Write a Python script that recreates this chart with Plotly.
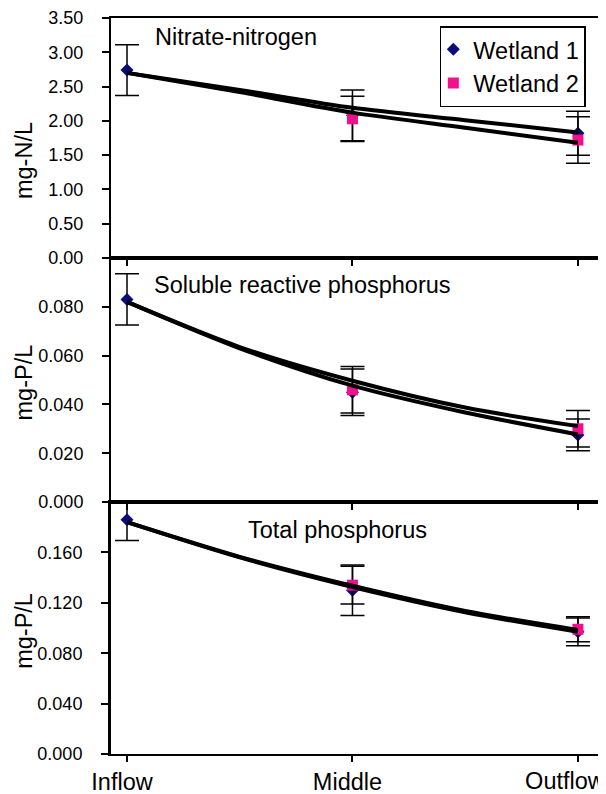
import plotly.graph_objects as go
from plotly.subplots import make_subplots

# ---------------- data ----------------
positions = ["Inflow", "Middle", "Outflow"]
pos_x = [0, 1, 2]
trend_x = [0, 0.5, 1, 1.5, 2]

nitrate_w1 = [2.74, 2.08, 1.82]
nitrate_w1_err = [0.37, 0.37, 0.32]
nitrate_w2 = [None, 2.03, 1.72]
nitrate_w2_err = [0, 0.33, 0.34]
nitrate_trend_w1 = [2.70, 2.45, 2.19, 2.01, 1.83]
nitrate_trend_w2 = [2.70, 2.42, 2.12, 1.90, 1.68]

srp_w1 = [0.083, 0.045, 0.0275]
srp_w1_err = [0.0105, 0.0095, 0.0065]
srp_w2 = [None, 0.046, 0.030]
srp_w2_err = [0, 0.0095, 0.0075]
srp_trend_w1 = [0.082, 0.0630, 0.0477, 0.0367, 0.0277]
srp_trend_w2 = [0.082, 0.0635, 0.0497, 0.0387, 0.0311]

tp_w1 = [0.186, 0.130, 0.097]
tp_w1_err = [0.0165, 0.020, 0.011]
tp_w2 = [None, 0.134, 0.099]
tp_w2_err = [0, 0.015, 0.010]
tp_trend_w1 = [0.184, 0.156, 0.1325, 0.1125, 0.097]
tp_trend_w2 = [0.184, 0.1565, 0.1335, 0.1135, 0.0985]

panel_titles = ["Nitrate-nitrogen", "Soluble reactive phosphorus", "Total phosphorus"]
y_titles = ["mg-N/L", "mg-P/L", "mg-P/L"]
y_ranges = [[0, 3.5], [0, 0.1], [0, 0.2]]
y_tickvals = [[0, 0.5, 1, 1.5, 2, 2.5, 3, 3.5],
              [0, 0.02, 0.04, 0.06, 0.08],
              [0, 0.04, 0.08, 0.12, 0.16]]
y_tickformat = [".2f", ".3f", ".3f"]

series_names = ["Wetland 1", "Wetland 2"]
# --------------------------------------

FONT = "Arial, Liberation Sans, Helvetica, sans-serif"
W1_COLOR = "#0b0b7a"
W2_COLOR = "#f2108c"
BIG = 23.5
X_RANGE = [-0.071, 2.089]

fig = make_subplots(rows=3, cols=1, shared_xaxes=True, vertical_spacing=0,
                    row_heights=[240, 244, 252])

panels = [
    (nitrate_w1, nitrate_w1_err, nitrate_w2, nitrate_w2_err, nitrate_trend_w1, nitrate_trend_w2),
    (srp_w1, srp_w1_err, srp_w2, srp_w2_err, srp_trend_w1, srp_trend_w2),
    (tp_w1, tp_w1_err, tp_w2, tp_w2_err, tp_trend_w1, tp_trend_w2),
]

for i, (w1, w1e, w2, w2e, t1, t2) in enumerate(panels):
    row = i + 1
    fig.add_trace(go.Scatter(
        x=pos_x, y=w1, mode="markers", name=series_names[0],
        marker=dict(symbol="diamond", size=10, color=W1_COLOR),
        error_y=dict(type="data", array=w1e, visible=True, color="black",
                     thickness=1.5, width=12),
        showlegend=(i == 0), legendgroup="w1", cliponaxis=False), row=row, col=1)
    fig.add_trace(go.Scatter(
        x=pos_x, y=w2, mode="markers", name=series_names[1],
        marker=dict(symbol="square", size=11, color=W2_COLOR),
        error_y=dict(type="data", array=w2e, visible=True, color="black",
                     thickness=1.5, width=12),
        showlegend=(i == 0), legendgroup="w2", cliponaxis=False), row=row, col=1)
    for t in (t1, t2):
        fig.add_trace(go.Scatter(
            x=trend_x, y=t, mode="lines",
            line=dict(color="black", width=4, shape="spline", smoothing=0.8),
            showlegend=False, hoverinfo="skip"), row=row, col=1)

    fig.update_yaxes(range=y_ranges[i], tickvals=y_tickvals[i], tickformat=y_tickformat[i],
                     ticks="outside", ticklen=7, tickwidth=1.5, tickcolor="black",
                     showline=True, linecolor="black", linewidth=2 if i < 2 else 3,
                     mirror=True, showgrid=False, zeroline=False, automargin=False,
                     ticklabeloverflow="allow",
                     tickfont=dict(family=FONT, size=18, color="black"),
                     ticklabelstandoff=15,
                     row=row, col=1)
    fig.update_xaxes(range=X_RANGE, tickvals=pos_x[:2], ticktext=positions[:2],
                     ticks="outside", ticklen=6, tickwidth=1.5, tickcolor="black",
                     showline=True, linecolor="black", linewidth=2, mirror=True,
                     showgrid=False, zeroline=False, automargin=False,
                     ticklabeloverflow="allow", ticklabelshift=-5,
                     tickfont=dict(family=FONT, size=BIG, color="black"),
                     row=row, col=1)
    # tick mark at Outflow (label drawn by the overlay axis below)
    fig.update_xaxes(tickvals=pos_x, ticktext=positions[:2] + [""], row=row, col=1)

# overlay axis carrying the (edge-hugging) Outflow label
fig.add_trace(go.Scatter(x=[], y=[], xaxis="x4", yaxis="y3", showlegend=False,
                         hoverinfo="skip"))
fig.update_layout(xaxis4=dict(overlaying="x3", anchor="y3", side="bottom", range=X_RANGE,
                              tickvals=[pos_x[2]], ticktext=[positions[2]],
                              ticks="outside", ticklen=6, tickcolor="rgba(0,0,0,0)",
                              showline=False, showgrid=False, zeroline=False,
                              automargin=False, ticklabeloverflow="allow",
                              ticklabelshift=-13,
                              tickfont=dict(family=FONT, size=BIG, color="black")))

# plot area spans page y 18..754 (736 px)
annotations = []
title_pos = [(0.0862, 0.9742), (0.0842, 0.6372), (0.2772, 0.3043)]
for (tx, ty), txt in zip(title_pos, panel_titles):
    annotations.append(dict(text=txt, x=tx, y=ty, xref="paper", yref="paper",
                            xanchor="left", yanchor="middle", showarrow=False,
                            font=dict(family=FONT, size=BIG, color="black")))
ytitle_pos = [0.8057, 0.5048, 0.1674]
for ty, txt in zip(ytitle_pos, y_titles):
    annotations.append(dict(text=txt, x=-0.1786, y=ty, xref="paper", yref="paper",
                            xanchor="center", yanchor="middle", textangle=-90,
                            showarrow=False,
                            font=dict(family=FONT, size=BIG, color="black")))

# page body has an 8px margin, so the figure is 8px smaller and offset
fig.update_layout(
    width=598, height=786,
    margin=dict(l=103, r=8, t=10, b=40),
    paper_bgcolor="white", plot_bgcolor="white",
    font=dict(family=FONT, color="black"),
    annotations=annotations,
    legend=dict(x=0.975, y=0.989, xanchor="right", yanchor="top",
                bgcolor="white", bordercolor="black", borderwidth=1.5,
                font=dict(family=FONT, size=BIG, color="black"),
                itemwidth=30, tracegroupgap=0, indentation=-8),
)

fig.write_html("out.html")
